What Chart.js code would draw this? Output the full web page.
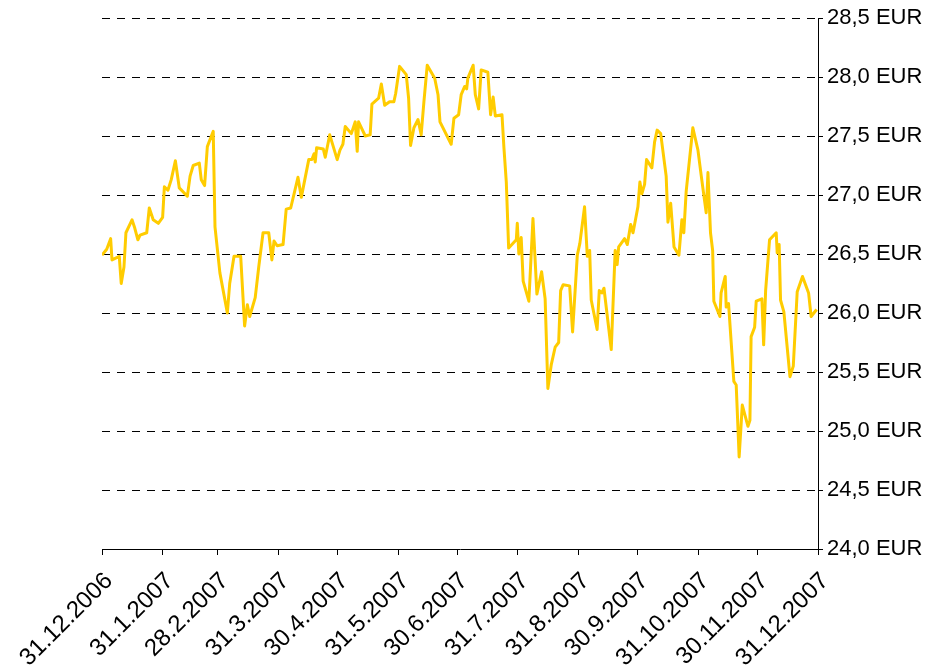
<!DOCTYPE html>
<html>
<head>
<meta charset="utf-8">
<script src="https://cdn.jsdelivr.net/npm/chart.js@4"></script>
<style>
html,body{margin:0;padding:0;background:#fff;}
#wrap{width:926px;height:668px;}
</style>
</head>
<body>
<div id="wrap"><canvas id="c" width="926" height="668"></canvas></div>
<script>
// Month-end tick labels (x axis)
const tickLabels = ["31.12.2006","31.1.2007","28.2.2007","31.3.2007","30.4.2007","31.5.2007","30.6.2007","31.7.2007","31.8.2007","30.9.2007","31.10.2007","30.11.2007","31.12.2007"];
// Y axis tick values (EUR)
const yTicks = [24.0,24.5,25.0,25.5,26.0,26.5,27.0,27.5,28.0,28.5];
// Days after 31.12.2006
const days = [0,2.4,4.4,5.1,7.5,8.8,9.8,11.2,12.2,15.3,
16.7,18.3,19.4,22.8,24.1,26.1,28.7,30.9,31.8,33.6,
35.3,37.4,39.4,43.5,44.9,46.5,49.6,50.6,52.3,53.7,
56.7,57.6,60.1,63.9,65.1,67.3,70.7,72.7,74.1,75.3,
78.1,79.9,82.1,85.0,86.6,87.7,89.3,92.3,93.9,96.2,
99.9,101.6,105.4,107.0,108.1,108.7,109.4,112.8,113.8,116.1,
119.9,121.3,122.8,124.0,127.1,129.1,130.1,130.8,134.2,136.7,
137.6,141.0,142.4,144.1,146.6,148.8,149.7,151.7,155.1,156.3,
157.3,159.0,161.1,162.7,164.1,165.8,169.6,171.3,172.3,178.0,
179.4,181.8,183.1,184.9,185.9,186.5,189.2,190.3,192.0,193.3,
196.7,198.1,199.4,200.5,203.9,204.9,206.1,207.3,211.2,211.7,
212.5,213.7,214.7,217.6,219.7,221.7,224.1,225.9,227.3,229.0,
231.0,232.8,233.8,235.1,238.4,239.9,242.3,243.6,246.0,247.4,
248.6,249.4,252.4,253.5,254.8,255.9,259.6,261.6,262.6,263.4,
266.4,267.8,269.5,270.7,273.2,274.2,275.2,276.6,277.6,280.3,
281.7,283.0,284.8,287.6,288.5,289.9,291.6,294.1,295.6,296.6,
297.8,301.2,303.8,305.5,308.0,308.9,310.2,311.3,311.9,315.0,
315.6,317.7,318.2,319.4,322.1,323.3,324.8,326.4,329.3,330.3,
330.9,332.7,333.5,336.4,337.3,338.3,340.3,343.7,344.2,345.2,
345.9,347.6,350.7,352.4,354.4,357.1,360.2,361.5,364.3];
// Share price (EUR)
const prices = [26.49,26.54,26.63,26.45,26.47,26.48,26.25,26.39,26.68,26.79,
26.72,26.62,26.66,26.68,26.89,26.79,26.76,26.81,27.07,27.04,
27.13,27.29,27.06,26.99,27.16,27.25,27.27,27.13,27.08,27.41,
27.54,26.73,26.34,26.00,26.25,26.48,26.48,25.89,26.07,25.97,
26.13,26.39,26.68,26.68,26.45,26.61,26.57,26.58,26.88,26.89,
27.15,26.98,27.30,27.30,27.35,27.28,27.40,27.39,27.32,27.51,
27.30,27.38,27.43,27.58,27.52,27.62,27.37,27.62,27.50,27.51,
27.77,27.82,27.94,27.76,27.79,27.79,27.86,28.09,28.02,27.82,
27.42,27.57,27.64,27.51,27.79,28.10,27.99,27.85,27.62,27.43,
27.65,27.68,27.85,27.92,27.90,27.99,28.10,27.85,27.73,28.06,
28.04,27.68,27.83,27.67,27.68,27.40,27.11,26.55,26.62,26.76,
26.50,26.64,26.27,26.10,26.80,26.16,26.35,26.12,25.36,25.56,
25.71,25.75,26.19,26.24,26.23,25.84,26.49,26.59,26.90,26.48,
26.53,26.11,25.86,26.19,26.17,26.21,25.69,26.53,26.41,26.56,
26.63,26.58,26.75,26.68,26.90,27.11,27.01,27.09,27.30,27.23,
27.45,27.55,27.52,27.16,26.77,26.93,26.56,26.49,26.79,26.68,
27.03,27.57,27.38,27.16,26.85,27.19,26.68,26.53,26.10,25.97,
26.17,26.31,26.05,26.08,25.42,25.39,24.78,25.22,25.04,25.09,
25.80,25.88,26.10,26.12,25.73,26.19,26.62,26.68,26.51,26.58,
26.11,26.01,25.46,25.55,26.18,26.31,26.17,25.97,26.03];

function dayOffset(label){
  const [d,m,y] = label.split('.').map(Number);
  return Math.round((Date.UTC(y,m-1,d) - Date.UTC(2006,11,31)) / 86400000);
}
const tickDays = tickLabels.map(dayOffset);
const FONT = "'Liberation Sans', Arial, sans-serif";

new Chart(document.getElementById('c'), {
  type: 'line',
  data: {
    datasets: [{
      data: days.map((d,i) => ({x:d, y:prices[i]})),
      borderColor: '#FFCC00',
      borderWidth: 3,
      pointRadius: 0,
      tension: 0,
      fill: false,
      borderJoinStyle: 'round'
    }]
  },
  options: {
    responsive: false,
    animation: false,
    devicePixelRatio: 1,
    plugins: { legend: {display:false}, tooltip: {enabled:false} },
    layout: { padding: { left:102, top:18, right:0, bottom:0 } },
    scales: {
      x: {
        type: 'linear',
        min: tickDays[0],
        max: tickDays[tickDays.length-1],
        afterBuildTicks: s => { s.ticks = tickDays.map(v => ({value:v})); },
        afterFit: s => { s.height = 119; s.paddingLeft = 0; s.paddingRight = 0; },
        ticks: {
          autoSkip: false, minRotation: 45, maxRotation: 45, padding: 12, labelOffset: 7,
          color: '#000', font: { family: FONT, size: 24 },
          callback: v => { const i = tickDays.indexOf(v); return i >= 0 ? tickLabels[i] : ''; }
        },
        grid: { drawOnChartArea: false, drawTicks: true, tickLength: 6, color: '#000', lineWidth: 1 },
        border: { display: true, color: '#000', width: 1 }
      },
      y: {
        type: 'linear',
        position: 'right',
        min: yTicks[0],
        max: yTicks[yTicks.length-1],
        afterBuildTicks: s => { s.ticks = yTicks.map(v => ({value:v})); },
        afterFit: s => { s.width = 108; s.paddingTop = 0; s.paddingBottom = 0; },
        ticks: {
          padding: 4, color: '#000', font: { family: FONT, size: 22 },
          callback: v => v.toFixed(1).replace('.', ',') + ' EUR'
        },
        grid: { drawOnChartArea: true, drawTicks: true, tickLength: 5, color: '#000', lineWidth: 1, tickBorderDash: [] },
        border: { display: true, color: '#000', width: 1, dash: [8,7] }
      }
    }
  }
});
</script>
</body>
</html>
